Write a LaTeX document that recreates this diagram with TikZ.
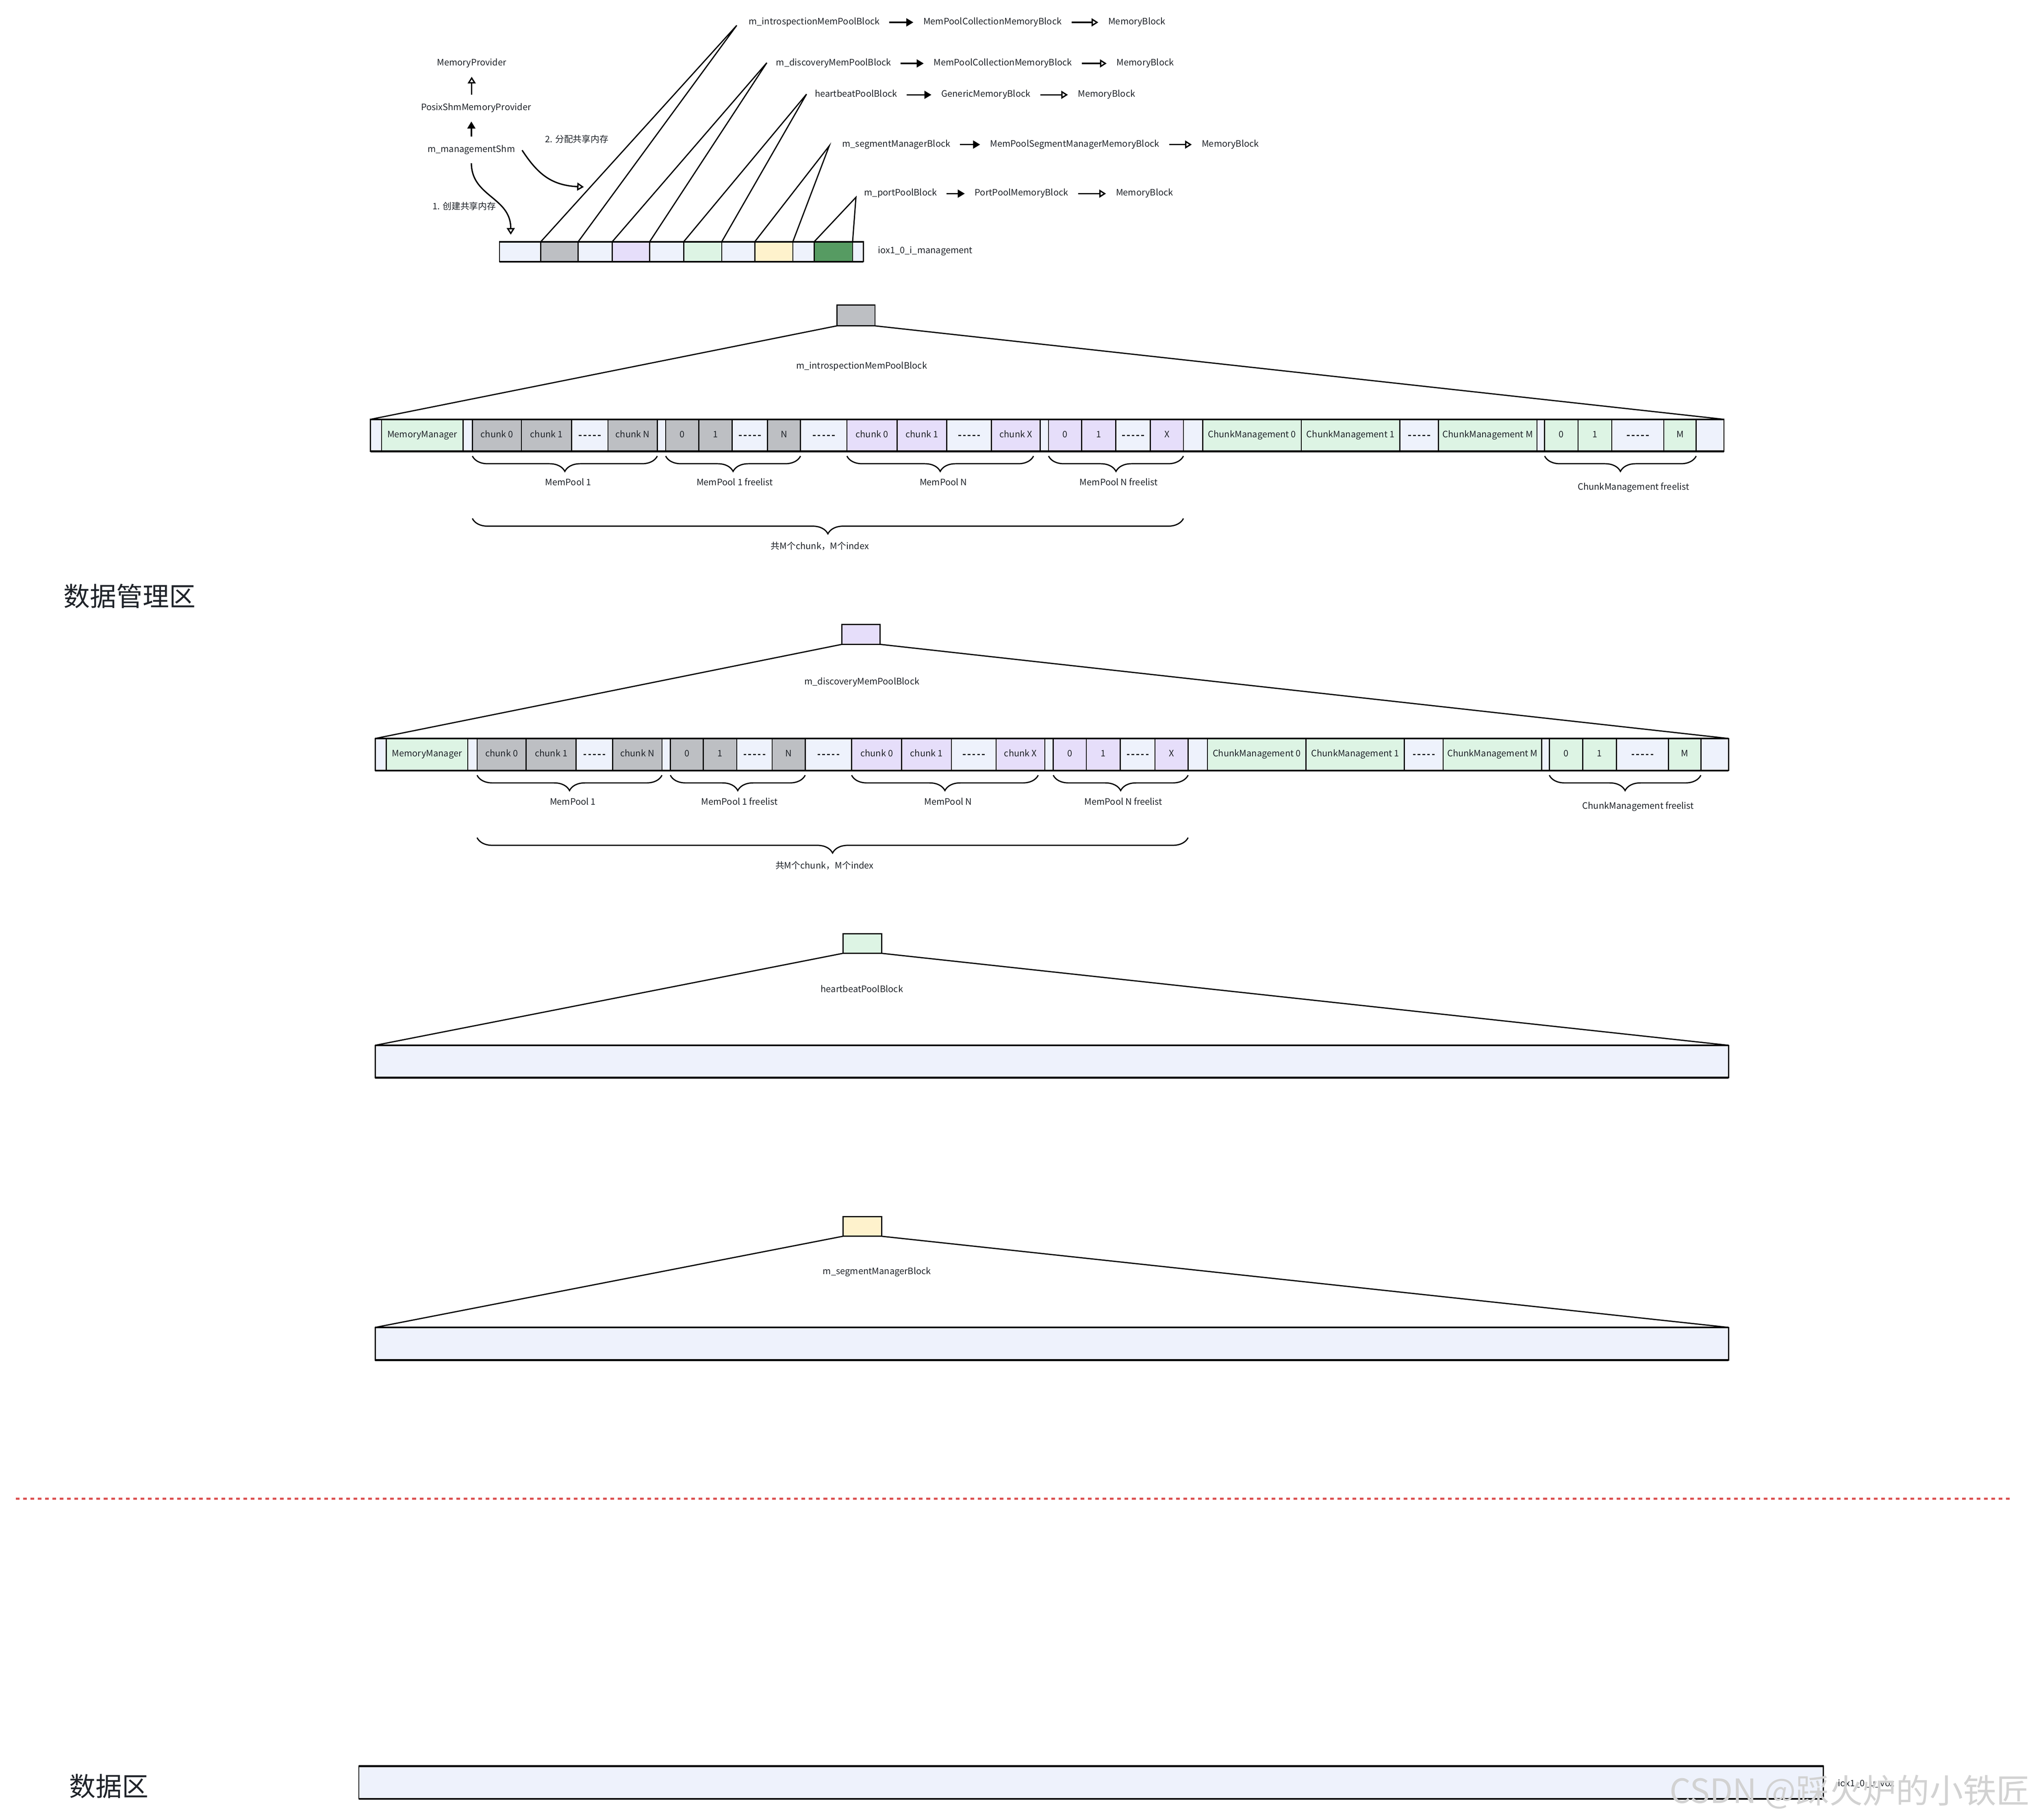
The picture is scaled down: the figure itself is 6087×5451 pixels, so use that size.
\documentclass[tikz,border=0pt]{standalone}
\usepackage{fontspec}
\setmainfont{Noto Sans CJK SC}
\usetikzlibrary{arrows.meta,decorations.pathreplacing}
\definecolor{lt}{HTML}{EEF2FC}
\definecolor{gr}{HTML}{BDBFC3}
\definecolor{lv}{HTML}{E6DEFA}
\definecolor{lg}{HTML}{DDF4E4}
\definecolor{cr}{HTML}{FEF2CC}
\definecolor{dg}{HTML}{569B62}
\definecolor{tx}{HTML}{1F2329}
\definecolor{rd}{HTML}{DB4F4F}
\definecolor{wm}{HTML}{D2D2D2}
\newcommand{\onedash}{\rule[1.22pt]{2pt}{0.9pt}}
\newcommand{\dashrow}{\onedash\hspace{1.56pt}\onedash\hspace{1.56pt}\onedash\hspace{1.56pt}\onedash\hspace{1.56pt}\onedash}
\tikzset{
  lbl/.style={font=\fontsize{6.65pt}{8pt}\selectfont, text=tx, inner sep=0pt, outer sep=0pt, text height=5pt, text depth=1.65pt},
  cell/.style={draw=black, line width=0.8pt, minimum height=24pt, inner sep=0pt, outer sep=0pt, font=\fontsize{6.65pt}{8pt}\selectfont, text=tx, text height=5pt, text depth=1.65pt},
  sbox/.style={draw=black, line width=0.9pt, inner sep=0pt, outer sep=0pt},
  barline/.style={line width=1.3pt},
  conn/.style={line width=0.9pt},
  brc/.style={decorate, decoration={brace, mirror, amplitude=11.5pt}, line width=0.9pt},
  farrow/.style={line width=1pt, -{Triangle[length=5.25pt,width=6pt]}},
  harrow/.style={line width=1pt, -{Triangle[open,length=5pt,width=6pt]}},
  big/.style={font=\fontsize{19.75pt}{22pt}\selectfont, text=tx, inner sep=0pt}
}
\newcommand{\drawbigbar}[1]{%
  \foreach \xa/\xb/\fc/\txt [count=\i] in {
    1110/1143/lt/{}, 1143/1387/lg/MemoryManager, 1387/1415/lt/{},
    1415/1562/gr/chunk 0, 1562/1712/gr/chunk 1, 1712/1821/lt/\dashrow, 1821/1969/gr/chunk N,
    1969/1994/lt/{}, 1994/2093/gr/0, 2093/2193/gr/1, 2193/2299/lt/\dashrow, 2299/2398/gr/N,
    2398/2537/lt/\dashrow, 2537/2687/lv/chunk 0, 2687/2836/lv/chunk 1, 2836/2970/lt/\dashrow,
    2970/3116/lv/chunk X, 3116/3141/lt/{}, 3141/3240/lv/0, 3240/3342/lv/1, 3342/3446/lt/\dashrow,
    3446/3545/lv/X, 3545/3603/lt/{}, 3603/3898/lg/ChunkManagement 0, 3898/4193/lg/ChunkManagement 1,
    4193/4309/lt/\dashrow, 4309/4604/lg/ChunkManagement M, 4604/4627/lt/{}, 4627/4727/lg/0,
    4727/4828/lg/1, 4828/4984/lt/\dashrow, 4984/5081/lg/M, 5081/5164/lt/{}}{%
    \pgfmathsetmacro\w{(\xb-\xa)*0.25}%
    \pgfmathsetmacro\cx{(\xa+\xb)/2}%
    \node[cell, fill=\fc, minimum width=\w pt] (#1c\i) at (\cx,1304) {\txt};
  }
  \draw[barline] (#1c1.north west) -- (#1c33.north east);
  \draw[barline] (#1c1.south west) -- (#1c33.south east);
  \draw[brc] ([yshift=-3.5pt]#1c4.south west) -- ([yshift=-3.5pt]#1c7.south east);
  \draw[brc] ([yshift=-3.5pt]#1c9.south west) -- ([yshift=-3.5pt]#1c12.south east);
  \draw[brc] ([yshift=-3.5pt]#1c14.south west) -- ([yshift=-3.5pt,xshift=-5pt]#1c17.south east);
  \draw[brc] ([yshift=-3.5pt]#1c19.south west) -- ([yshift=-3.5pt]#1c22.south east);
  \draw[brc] ([yshift=-3.5pt]#1c29.south west) -- ([yshift=-3.5pt]#1c32.south east);
  \draw[brc] ([yshift=-50.25pt]#1c4.south west) -- ([yshift=-50.25pt]#1c22.south east);
  \node[lbl] (#1l1) at (1702,1448) {MemPool 1};
  \node[lbl] (#1l2) at (2201,1448) {MemPool 1 freelist};
  \node[lbl] (#1l3) at (2826,1448) {MemPool N};
  \node[lbl] (#1l4) at (3351,1448) {MemPool N freelist};
  \node[lbl] (#1l5) at (4893,1461) {ChunkManagement freelist};
  \node[lbl] (#1l6) at (2456,1639) {共M个chunk，M个index};
}
\begin{document}
\begin{tikzpicture}[x=0.25pt,y=-0.25pt]
\fill[white] (0,0) rectangle (6087,5451);
\useasboundingbox (0,0) rectangle (6087,5451);

% ---------- top left: providers ----------
\node[lbl, minimum height=20pt] (mp) at (1413,190) {MemoryProvider};
\node[lbl, minimum height=20pt] (psp) at (1426,324) {PosixShmMemoryProvider};
\node[lbl, minimum height=20pt] (mms) at (1412,449) {m\_managementShm};
\draw[harrow] (psp.north -| mp) -- (mp.south);
\draw[farrow] (mms.north) -- (psp.south -| mms);
\coordinate (c1e) at (1530,703);
\draw[harrow] (mms.south) .. controls (1413,590) and (1530,590) .. (c1e);
\coordinate (c2s) at (1564,450);
\coordinate (c2e) at (1749,560);
\draw[harrow] (c2s) .. controls (1610,520) and (1650,555) .. (c2e);
\node[lbl] (s1t) at (1391,621) {1. 创建共享内存};
\node[lbl] (s2t) at (1728,420) {2. 分配共享内存};

% ---------- management bar ----------
\foreach \xa/\xb/\fc [count=\i] in {1496/1620/lt, 1620/1732/gr, 1732/1834/lt, 1834/1946/lv,
  1946/2048/lt, 2048/2162/lg, 2162/2261/lt, 2261/2375/cr, 2375/2439/lt, 2439/2554/dg, 2554/2586/lt}{%
  \pgfmathsetmacro\w{(\xb-\xa)*0.25}%
  \pgfmathsetmacro\cx{(\xa+\xb)/2}%
  \node[cell, fill=\fc, minimum width=\w pt, minimum height=15pt] (mc\i) at (\cx,754) {};
}
\draw[barline] (mc1.north west) -- (mc11.north east);
\draw[barline] (mc1.south west) -- (mc11.south east);
\node[lbl, anchor=west] (mlab) at (2630,752) {iox1\_0\_i\_management};

% ---------- block rows ----------
\node[lbl, anchor=west] (r1a) at (2243,67) {m\_introspectionMemPoolBlock};
\node[lbl, anchor=west] (r1b) at (2766,67) {MemPoolCollectionMemoryBlock};
\node[lbl, anchor=west] (r1c) at (3320,67) {MemoryBlock};
\node[lbl, anchor=west] (r2a) at (2325,190) {m\_discoveryMemPoolBlock};
\node[lbl, anchor=west] (r2b) at (2797,190) {MemPoolCollectionMemoryBlock};
\node[lbl, anchor=west] (r2c) at (3345,190) {MemoryBlock};
\node[lbl, anchor=west] (r3a) at (2441,284) {heartbeatPoolBlock};
\node[lbl, anchor=west] (r3b) at (2820,284) {GenericMemoryBlock};
\node[lbl, anchor=west] (r3c) at (3229,284) {MemoryBlock};
\node[lbl, anchor=west] (r4a) at (2523,433) {m\_segmentManagerBlock};
\node[lbl, anchor=west] (r4b) at (2966,433) {MemPoolSegmentManagerMemoryBlock};
\node[lbl, anchor=west] (r4c) at (3600,433) {MemoryBlock};
\node[lbl, anchor=west] (r5a) at (2589,580) {m\_portPoolBlock};
\node[lbl, anchor=west] (r5b) at (2920,580) {PortPoolMemoryBlock};
\node[lbl, anchor=west] (r5c) at (3343,580) {MemoryBlock};
\foreach \r in {1,...,5}{
  \draw[farrow, shorten <=7pt, shorten >=7.5pt] (r\r a.east) -- (r\r b.west);
  \draw[harrow, shorten <=7.5pt, shorten >=7.5pt] (r\r b.east) -- (r\r c.west);
}
\coordinate (ap1) at (2207,76);
\coordinate (ap2) at (2297,188);
\coordinate (ap3) at (2416,282);
\coordinate (ap4) at (2484,437);
\coordinate (ap5) at (2564,591);
\draw[conn] (mc2.north west) -- (ap1) -- (mc2.north east);
\draw[conn] (mc4.north west) -- (ap2) -- (mc4.north east);
\draw[conn] (mc6.north west) -- (ap3) -- (mc6.north east);
\draw[conn] (mc8.north west) -- (ap4) -- (mc8.north east);
\draw[conn] (mc10.north west) -- (ap5) -- (mc10.north east);

% ---------- section 1 ----------
\node[sbox, fill=gr, minimum width=28.5pt, minimum height=15.5pt] (b1) at (2564,945) {};
\node[lbl] (b1l) at (2581,1098) {m\_introspectionMemPoolBlock};
\drawbigbar{A}
\draw[conn] (b1.south west) -- (Ac1.north west);
\draw[conn] (b1.south east) -- (Ac33.north east);

% ---------- section 2 ----------
\node[sbox, fill=lv, minimum width=28.5pt, minimum height=15pt] (b2) at (2579,1900) {};
\node[lbl] (b2l) at (2582,2044) {m\_discoveryMemPoolBlock};
\begin{scope}[shift={(14,956)}]
\drawbigbar{B}
\end{scope}
\draw[conn] (b2.south west) -- (Bc1.north west);
\draw[conn] (b2.south east) -- (Bc33.north east);

% ---------- section 3 ----------
\node[sbox, fill=lg, minimum width=29pt, minimum height=14.75pt] (b3) at (2583,2826) {};
\node[lbl] (b3l) at (2582,2965) {heartbeatPoolBlock};
\node[cell, fill=lt, minimum width=1013.5pt, minimum height=24.25pt] (bar3) at (3151,3179.5) {};
\draw[barline] (bar3.north west) -- (bar3.north east);
\draw[barline] (bar3.south west) -- (bar3.south east);
\draw[conn] (b3.south west) -- (bar3.north west);
\draw[conn] (b3.south east) -- (bar3.north east);

% ---------- section 4 ----------
\node[sbox, fill=cr, minimum width=29pt, minimum height=14.75pt] (b4) at (2583,3673.5) {};
\node[lbl] (b4l) at (2627,3810) {m\_segmentManagerBlock};
\node[cell, fill=lt, minimum width=1013.5pt, minimum height=24.5pt] (bar4) at (3151,4025) {};
\draw[barline] (bar4.north west) -- (bar4.north east);
\draw[barline] (bar4.south west) -- (bar4.south east);
\draw[conn] (b4.south west) -- (bar4.north west);
\draw[conn] (b4.south east) -- (bar4.north east);

% ---------- region titles ----------
\node[big] (t1) at (388,1786) {数据管理区};
\coordinate (rl1) at (47,4489);
\coordinate (rl2) at (6029,4489);
\draw[rd, line width=1.6pt, dash pattern=on 2.75pt off 2.75pt] (rl1) -- (rl2);
\node[big] (t2) at (326,5350) {数据区};

% ---------- data bar ----------
\node[cell, fill=lt, minimum width=1096.75pt, minimum height=24.5pt] (dbar) at (3268.5,5339) {};
\draw[barline] (dbar.north west) -- (dbar.north east);
\draw[barline] (dbar.south west) -- (dbar.south east);
\node[lbl, anchor=west] (dlab) at (5506,5344) {iox1\_0\_u\_vox};
\node[font=\fontsize{25pt}{29pt}\selectfont, text=wm, inner sep=0pt, anchor=east] (wmk) at (6081,5367) {CSDN @踩火炉的小铁匠};
\end{tikzpicture}
\end{document}
